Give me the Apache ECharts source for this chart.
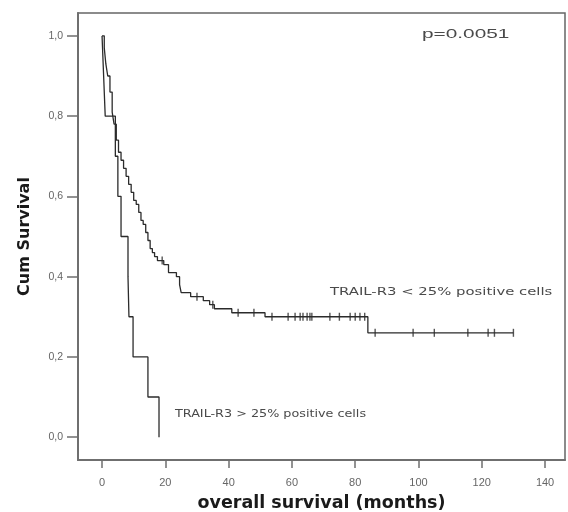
<!DOCTYPE html>
<html>
<head>
<meta charset="utf-8">
<script src="https://cdn.jsdelivr.net/npm/echarts@6/dist/echarts.min.js"></script>
<style>
  html, body { margin: 0; padding: 0; background: #fff; }
  #chart { width: 568px; height: 512px; }
</style>
</head>
<body>
<div id="chart"></div>
<script>
// Kaplan-Meier estimates: event times (months) and survival after each step
const lowTimes = [0, 0.7, 1.2, 1.8, 2.5, 3.2, 3.8, 4.5, 5.2, 6.0, 6.8, 7.6, 8.4, 9.2, 10.0, 10.8, 11.6, 12.3, 13.0, 13.8, 14.5, 15.2, 15.9, 16.6, 17.5, 19.5, 21.0, 23.5, 24.5, 25.0, 28.0, 32.0, 34.0, 35.5, 41.0, 51.5, 84.0, 130];
const lowSurv  = [1.00, 0.97, 0.93, 0.90, 0.86, 0.81, 0.78, 0.74, 0.71, 0.69, 0.67, 0.65, 0.63, 0.61, 0.59, 0.58, 0.56, 0.54, 0.53, 0.51, 0.49, 0.47, 0.46, 0.45, 0.44, 0.43, 0.41, 0.40, 0.38, 0.36, 0.35, 0.34, 0.33, 0.32, 0.31, 0.30, 0.26, 0.26];
const lowCensored = [19, 30, 35, 43, 48, 53.7, 58.8, 61, 62.6, 63.5, 64.8, 65.7, 66.3, 72, 75, 78.4, 80, 81.5, 83, 86.3, 98.3, 105, 115.6, 122, 124, 130];

const highTimes = [0, 0.5, 1.0, 4.2, 5.0, 6.0, 8.2, 8.5, 9.8, 14.5, 18.0];
const highSurv  = [1.0, 0.9, 0.8, 0.7, 0.6, 0.5, 0.4, 0.3, 0.2, 0.1, 0.0];

const xTicks = [0, 20, 40, 60, 80, 100, 120, 140];
const yTicks = [0, 0.2, 0.4, 0.6, 0.8, 1.0];

const pValueText = 'p=0.0051';
const lowLabel = 'TRAIL-R3 < 25% positive cells';
const highLabel = 'TRAIL-R3 > 25% positive cells';

// survival value in effect at time t (step function lookup)
function survAt(times, surv, t) {
  let v = surv[0];
  for (let i = 0; i < times.length; i++) {
    if (times[i] <= t) v = surv[i];
  }
  return v;
}

const lowData = lowTimes.map((t, i) => [t, lowSurv[i]]);
const highData = highTimes.map((t, i) => [t, highSurv[i]]);
const censorData = lowCensored.map(t => [t, survAt(lowTimes, lowSurv, t)]);

const chart = echarts.init(document.getElementById('chart'), null, { renderer: 'canvas' });

const lineColor = '#2b2b2b';
const axisColor = '#6f6f6f';
const labelColor = '#666';
const noteColor = '#4a4a4a';

chart.setOption({
  animation: false,
  backgroundColor: '#fff',
  grid: {
    left: 78, right: 3, top: 13, bottom: 52,
    containLabel: false, outerBoundsMode: 'none',
    show: true, borderColor: '#666', borderWidth: 1.5, backgroundColor: 'transparent'
  },
  xAxis: {
    type: 'value',
    min: -7.6, max: 146.3,
    splitLine: { show: false },
    axisLine: { show: true, onZero: false, lineStyle: { color: axisColor, width: 2 } },
    axisTick: { show: true, customValues: xTicks, length: 8, lineStyle: { color: axisColor, width: 1.5 } },
    axisLabel: {
      customValues: xTicks, margin: 17, color: labelColor, fontSize: 11,
      fontFamily: 'Liberation Sans'
    },
    name: 'overall survival (months)',
    nameLocation: 'middle', nameGap: 34,
    nameTextStyle: { fontSize: 17.5, fontWeight: 'bold', color: '#1a1a1a', fontFamily: 'DejaVu Sans' }
  },
  yAxis: {
    type: 'value',
    min: -0.057, max: 1.057,
    splitLine: { show: false },
    axisLine: { show: true, onZero: false, lineStyle: { color: axisColor, width: 2 } },
    axisTick: { show: true, customValues: yTicks, length: 11, lineStyle: { color: axisColor, width: 1.5 } },
    axisLabel: {
      customValues: yTicks, margin: 15, color: labelColor, fontSize: 10.5,
      fontFamily: 'Liberation Sans',
      formatter: v => v.toFixed(1).replace('.', ',')
    },
    name: 'Cum Survival',
    nameLocation: 'middle', nameGap: 45, nameRotate: 90,
    nameTextStyle: { fontSize: 16, fontWeight: 'bold', color: '#1a1a1a', fontFamily: 'DejaVu Sans' }
  },
  series: [
    {
      type: 'line', step: 'end', data: lowData, symbol: 'none',
      lineStyle: { color: lineColor, width: 1.3 }, z: 3
    },
    {
      type: 'line', step: 'end', data: highData, symbol: 'none',
      lineStyle: { color: lineColor, width: 1.3 }, z: 3
    },
    {
      type: 'scatter', data: censorData, symbol: 'rect', symbolSize: [1.4, 8],
      itemStyle: { color: lineColor }, z: 4
    }
  ],
  graphic: [
    {
      type: 'text', x: 422, y: 34, scaleX: 1.6,
      style: { text: pValueText, fontSize: 13, fill: noteColor, fontFamily: 'Liberation Sans', textVerticalAlign: 'middle' }
    },
    {
      type: 'text', x: 330, y: 292, scaleX: 1.35,
      style: { text: lowLabel, fontSize: 11, fill: noteColor, fontFamily: 'DejaVu Sans', textVerticalAlign: 'middle' }
    },
    {
      type: 'text', x: 175, y: 414, scaleX: 1.16,
      style: { text: highLabel, fontSize: 11, fill: noteColor, fontFamily: 'DejaVu Sans', textVerticalAlign: 'middle' }
    }
  ]
});
</script>
</body>
</html>
